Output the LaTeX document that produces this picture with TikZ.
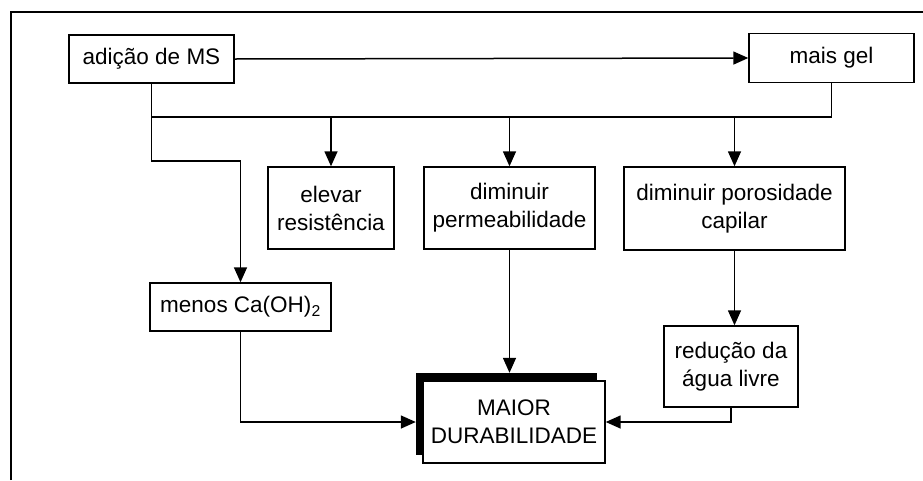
\documentclass[tikz,border=0pt]{standalone}
\usepackage{fontspec}
\setmainfont{Liberation Sans}
\usetikzlibrary{arrows.meta}
\begin{document}
\begin{tikzpicture}[x=1pt,y=-1pt,
  box/.style={draw=black, line width=1.4pt, fill=white, inner sep=0pt, align=center,
    font=\fontsize{22.5}{28}\selectfont},
  conn/.style={draw=black, line width=1.5pt},
  arr/.style={conn, -{Triangle[length=15pt,width=13pt]}}]
\useasboundingbox (0,0) rectangle (923,480);
% frame
\draw[line width=1.6pt] (11,480) -- (11,12) -- (923,12);
% boxes
\node[box, minimum width=165pt, minimum height=48pt] (ms) at (151.5,59) {adição de MS};
\node[box, minimum width=165pt, minimum height=49pt] (gel) at (831.5,58) {mais gel};
\node[box, minimum width=126pt, minimum height=82pt] (elev) at (331,208) {elevar\\resistência};
\node[box, minimum width=171pt, minimum height=82pt] (perm) at (509.5,208) {diminuir\\permeabilidade};
\node[box, minimum width=221pt, minimum height=83pt] (poro) at (734.5,208.5) {diminuir porosidade\\capilar};
\node[box, minimum width=181pt, minimum height=48pt] (menos) at (240.5,307) {menos Ca(OH)\textsubscript{2}};
\node[box, minimum width=134pt, minimum height=81pt] (red) at (731,366.5) {redução da\\água livre};
\node[fill=black, inner sep=0pt, minimum width=181pt, minimum height=82pt] (maiorsh) at (506.5,414) {};
\node[box, minimum width=182pt, minimum height=82pt] (maior) at (514,422) {MAIOR\\DURABILIDADE};
% connectors
\coordinate (bus) at (0,117);
\coordinate (knee) at (0,161);
\draw[arr] (ms.east) -- (gel.west);
\draw[conn] (ms.south) |- (gel.south |- bus) -- (gel.south);
\draw[arr] (elev.north |- bus) -- (elev.north);
\draw[arr] (perm.north |- bus) -- (perm.north);
\draw[arr] (poro.north |- bus) -- (poro.north);
\draw[arr] (ms.south) |- (menos.north |- knee) -- (menos.north);
\draw[arr] (perm.south) -- (perm.south |- maiorsh.north);
\draw[arr] (menos.south) |- (maiorsh.west |- maior.west);
\draw[arr] (poro.south) -- (poro.south |- red.north);
\draw[arr] (red.south) |- (maior.east);
\end{tikzpicture}
\end{document}
